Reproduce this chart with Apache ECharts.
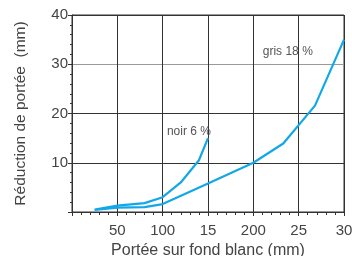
<!DOCTYPE html>
<html><head><meta charset="utf-8">
<script src="https://cdn.jsdelivr.net/npm/echarts@6/dist/echarts.min.js"></script>
<style>html,body{margin:0;padding:0;background:#fff}#c{width:352px;height:256px}</style>
</head><body><div id="c"></div>
<script>
const xTickValues = [50, 100, 150, 200, 250, 300];
const xTickLabels = ["50", "100", "15", "200", "25", "30"];
const yTickLabels = ["", "10", "20", "30", "40"];
const noirX = [25, 50, 80, 100, 120, 140, 150];
const noirY = [0.5, 1.3, 1.8, 3.0, 6.0, 10.5, 15.0];
const grisX = [25, 50, 80, 100, 150, 200, 233, 268, 300];
const grisY = [0.4, 0.9, 1.0, 1.6, 5.8, 10.0, 13.9, 21.6, 35.0];
const seriesNames = ["noir 6 %", "gris 18 %"];
const labelAt = [[129, 16.3], [238, 32.5]];

const font = "Liberation Sans";
const chart = echarts.init(document.getElementById('c'), null, {renderer: 'canvas'});
const pairs = (xs, ys) => xs.map((x, i) => [x, ys[i]]);
const blue = '#12a8e8';
const mp = (i) => ({
  symbol: 'circle', symbolSize: 1, itemStyle: {color: 'rgba(0,0,0,0)'},
  data: [{coord: labelAt[i], value: seriesNames[i]}],
  label: {show: true, position: 'inside', formatter: seriesNames[i], fontFamily: font, fontSize: 12, color: '#555'}
});
chart.setOption({
  animation: false,
  grid: {left: 72, right: 8, top: 15, bottom: 44, show: true, borderColor: '#333', borderWidth: 1,
         containLabel: false, outerBoundsMode: 'none'},
  xAxis: {
    type: 'value', min: 0, max: 300, interval: 50,
    name: 'Portée sur fond blanc (mm)', nameLocation: 'middle', nameGap: 27,
    nameTextStyle: {fontFamily: font, fontSize: 16, color: '#444'},
    axisLine: {show: true, lineStyle: {color: '#333', width: 1}},
    axisTick: {show: true, length: 4, lineStyle: {color: '#333'}},
    minorTick: {show: true, splitNumber: 5, length: 3, lineStyle: {color: '#333'}},
    splitLine: {show: true, lineStyle: {color: '#333', width: 1}},
    axisLabel: {fontFamily: font, fontSize: 15, color: '#444', margin: 11,
      formatter: v => { const i = xTickValues.indexOf(v); return i >= 0 ? xTickLabels[i] : ''; }}
  },
  yAxis: {
    type: 'value', min: 0, max: 40, interval: 10,
    name: 'Réduction de portée  (mm)', nameLocation: 'middle', nameGap: 43,
    nameTextStyle: {fontFamily: font, fontSize: 15.5, color: '#444'},
    axisLine: {show: true, lineStyle: {color: '#333', width: 1}},
    axisTick: {show: true, length: 4, lineStyle: {color: '#333'}},
    minorTick: {show: true, splitNumber: 5, length: 2, lineStyle: {color: '#333'}},
    splitLine: {show: true, lineStyle: {color: ['#333', '#333', '#333', '#999', '#333'], width: 1}},
    axisLabel: {fontFamily: font, fontSize: 15, color: '#444', margin: 4,
      formatter: v => yTickLabels[v / 10] || ''}
  },
  series: [
    {name: seriesNames[0], type: 'line', data: pairs(noirX, noirY), symbol: 'none',
     lineStyle: {color: blue, width: 2.2}, markPoint: mp(0)},
    {name: seriesNames[1], type: 'line', data: pairs(grisX, grisY), symbol: 'none',
     lineStyle: {color: blue, width: 2.2}, markPoint: mp(1)}
  ]
});
</script></body></html>
